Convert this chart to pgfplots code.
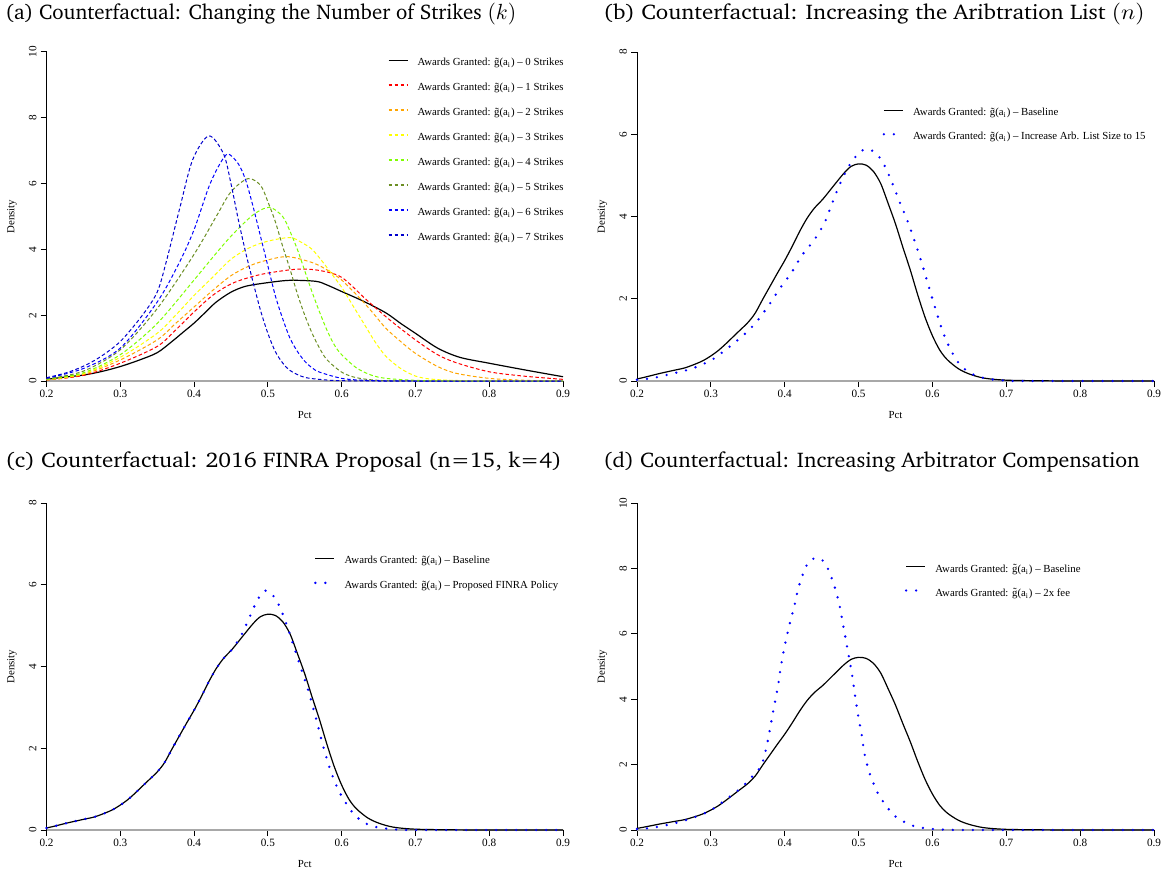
\documentclass[border=0pt]{standalone}
\usepackage[T1]{fontenc}
\usepackage{fontspec}
\setmainfont{Liberation Serif}
\usepackage{pgfplots}
\pgfplotsset{compat=1.18}

\definecolor{rorange}{HTML}{FFA500}
\definecolor{ryellow}{HTML}{FFFF00}
\definecolor{rchart}{HTML}{7FFF00}
\definecolor{rolive}{HTML}{6B8E23}
\definecolor{rblue}{HTML}{0000FF}
\definecolor{rbluethree}{HTML}{0000CD}
\definecolor{rred}{HTML}{FF0000}
\definecolor{rgray}{HTML}{A8A8A8}

\newcommand\titlefont{\fontencoding{T1}\fontfamily{bch}\fontsize{10.6}{12}\selectfont}
\newcommand\aw{Awards Granted: \~{g}(a\textsubscript{i}) --}

\pgfplotsset{
 rpanel/.style={
  scale only axis,
  xmin=0.2,xmax=0.9,ymin=0,
  axis x line*=bottom, axis y line*=left,
  axis line style={line width=0.5pt, -},
  tick align=outside,
  major tick length=3pt,
  tick style={line width=0.5pt, black},
  xtick={0.2,0.3,0.4,0.5,0.6,0.7,0.8,0.9},
  xticklabels={0.2,0.3,0.4,0.5,0.6,0.7,0.8,0.9},
  ticklabel style={font=\fontsize{5.6}{6}\selectfont},
  xticklabel style={yshift=2pt},
  yticklabel style={rotate=90, anchor=south, yshift=-1.5pt},
  xlabel={Pct}, ylabel={Density},
  label style={font=\fontsize{5.4}{6}\selectfont},
  xlabel style={at={(axis description cs:0.5,0)}, anchor=center, yshift=-17pt},
  ylabel style={at={([xshift=-17.25pt]axis description cs:0,0.5)}, anchor=center},
  clip=false,
  legend cell align=left,
  legend image code/.code={\draw[##1] (0pt,1.6pt) -- (9.5pt,1.6pt);},
  legend style={draw=none, fill=none, inner sep=0pt, outer sep=0pt, anchor=north west,
    font=\fontsize{5.4}{6}\selectfont,
    nodes={inner sep=0pt, text height=4pt, text depth=1.5pt},
    /tikz/every odd column/.append style={column sep=4.5pt}},
 },
 rsolid/.style={black, line width=0.6pt, smooth, tension=0.5, legend image post style={line width=0.7pt}},
 rdash/.style={line width=0.5pt, dash pattern=on 1.8pt off 1.2pt, smooth, tension=0.5, legend image post style={line width=0.8pt}},
 rdot/.style={rblue, line width=1.3pt, line cap=round, dash pattern=on 0pt off 5pt, smooth, tension=0.5},
 zeroline/.style={rgray, line width=0.75pt, forget plot},
}

\pgfplotstableread{
x y
0.2 0.05
0.21 0.09
0.23 0.18
0.25 0.26
0.265 0.32
0.28 0.42
0.29 0.5
0.3 0.61
0.31 0.74
0.32 0.9
0.335 1.16
0.35 1.42
0.36 1.65
0.37 1.98
0.38 2.3
0.39 2.62
0.4 2.93
0.41 3.27
0.42 3.63
0.43 3.95
0.44 4.2
0.452 4.43
0.465 4.72
0.48 5.05
0.49 5.22
0.5 5.28
0.51 5.25
0.52 5.1
0.53 4.8
0.54 4.32
0.55 3.82
0.56 3.25
0.57 2.7
0.58 2.1
0.59 1.55
0.6 1.1
0.61 0.75
0.62 0.52
0.635 0.3
0.65 0.17
0.67 0.07
0.7 0.02
0.75 0.005
0.8 0
0.9 0
}\baseline

\begin{document}
\begin{tikzpicture}
\useasboundingbox (0,0) rectangle (583pt,437pt);

\node[anchor=base west, inner sep=0pt, font=\titlefont] at (2.5pt,427.1pt) {\scalebox{0.986}[1]{(a) Counterfactual: Changing the Number of Strikes $(k)$}};
\node[anchor=base west, inner sep=0pt, font=\titlefont] at (301.5pt,427.1pt) {\scalebox{1.085}[1]{(b) Counterfactual: Increasing the Aribtration List $(n)$}};
\node[anchor=base west, inner sep=0pt, font=\titlefont] at (2.5pt,203.1pt) {\scalebox{1.085}[1]{(c) Counterfactual: 2016 FINRA Proposal (n=15, k=4)}};
\node[anchor=base west, inner sep=0pt, font=\titlefont] at (301.5pt,203.1pt) {\scalebox{1.035}[1]{(d) Counterfactual: Increasing Arbitrator Compensation}};

% ---------------- (a)
\begin{axis}[rpanel, at={(23.25pt,246.5pt)}, anchor=south west, width=258.25pt, height=164.5pt,
  ymax=10, ytick={0,2,4,6,8,10}, yticklabels={0,2,4,6,8,10},
  legend style={at={(0.661,0.982)}, row sep=7pt}]
\addplot[zeroline] coordinates {(0.2,0)(0.9,0)};
\addplot[rsolid] coordinates {(0.2,0.05)(0.225,0.12)(0.25,0.18)(0.275,0.29)(0.3,0.44)(0.325,0.63)(0.35,0.86)(0.37,1.2)(0.385,1.48)(0.4,1.76)(0.415,2.08)(0.43,2.4)(0.45,2.7)(0.47,2.88)(0.5,2.99)(0.53,3.06)(0.565,3.03)(0.58,2.92)(0.6,2.72)(0.63,2.42)(0.66,2.07)(0.68,1.75)(0.7,1.45)(0.73,1.0)(0.76,0.72)(0.8,0.54)(0.85,0.33)(0.9,0.13)};
\addlegendentry{\aw{} 0 Strikes}
\addplot[rdash, color=rred] coordinates {(0.2,0.03)(0.25,0.17)(0.3,0.54)(0.35,1.05)(0.375,1.55)(0.4,2.1)(0.425,2.6)(0.45,2.95)(0.475,3.15)(0.5,3.28)(0.54,3.4)(0.57,3.36)(0.6,3.15)(0.634,2.46)(0.665,1.86)(0.7,1.25)(0.73,0.8)(0.756,0.55)(0.8,0.28)(0.846,0.15)(0.9,0.05)};
\addlegendentry{\aw{} 1 Strikes}
\addplot[rdash, color=rorange] coordinates {(0.2,0.03)(0.25,0.2)(0.3,0.64)(0.35,1.25)(0.375,1.75)(0.4,2.25)(0.425,2.75)(0.45,3.2)(0.475,3.5)(0.5,3.68)(0.527,3.78)(0.56,3.6)(0.58,3.38)(0.6,3.07)(0.627,2.46)(0.645,2.0)(0.66,1.6)(0.68,1.2)(0.7,0.84)(0.73,0.44)(0.756,0.23)(0.8,0.08)(0.85,0.02)(0.9,0.0)};
\addlegendentry{\aw{} 2 Strikes}
\addplot[rdash, color=ryellow] coordinates {(0.2,0.04)(0.25,0.22)(0.3,0.72)(0.35,1.45)(0.375,2.0)(0.4,2.6)(0.425,3.15)(0.45,3.7)(0.475,4.05)(0.5,4.25)(0.53,4.36)(0.545,4.22)(0.56,4.0)(0.575,3.6)(0.59,3.15)(0.6,2.85)(0.615,2.3)(0.63,1.75)(0.645,1.2)(0.66,0.75)(0.68,0.38)(0.7,0.15)(0.72,0.06)(0.75,0.02)(0.8,0)(0.9,0)};
\addlegendentry{\aw{} 3 Strikes}
\addplot[rdash, color=rchart] coordinates {(0.2,0.05)(0.25,0.25)(0.3,0.8)(0.35,1.75)(0.4,3.07)(0.425,3.75)(0.45,4.4)(0.48,5.05)(0.502,5.28)(0.52,5.0)(0.53,4.55)(0.54,4.0)(0.55,3.35)(0.56,2.7)(0.57,2.1)(0.58,1.55)(0.59,1.1)(0.6,0.8)(0.62,0.4)(0.64,0.18)(0.66,0.08)(0.7,0.02)(0.75,0)(0.9,0)};
\addlegendentry{\aw{} 4 Strikes}
\addplot[rdash, color=rolive] coordinates {(0.2,0.06)(0.25,0.3)(0.3,0.95)(0.35,2.2)(0.4,3.85)(0.43,5.0)(0.45,5.75)(0.473,6.15)(0.49,5.95)(0.5,5.45)(0.51,4.85)(0.52,4.1)(0.53,3.4)(0.54,2.65)(0.55,2.0)(0.56,1.45)(0.57,1.0)(0.58,0.65)(0.6,0.27)(0.62,0.1)(0.65,0.02)(0.7,0)(0.9,0)};
\addlegendentry{\aw{} 5 Strikes}
\addplot[rdash, color=rblue] coordinates {(0.2,0.08)(0.25,0.38)(0.3,1.0)(0.35,2.4)(0.38,3.6)(0.4,4.6)(0.42,5.9)(0.435,6.6)(0.446,6.9)(0.46,6.6)(0.47,6.1)(0.48,5.3)(0.49,4.4)(0.5,3.5)(0.51,2.6)(0.52,1.9)(0.53,1.3)(0.54,0.9)(0.55,0.6)(0.56,0.4)(0.57,0.27)(0.6,0.08)(0.63,0.02)(0.66,0.005)(0.7,0)(0.9,0)};
\addlegendentry{\aw{} 6 Strikes}
\addplot[rdash, color=rbluethree] coordinates {(0.2,0.1)(0.227,0.25)(0.25,0.45)(0.272,0.72)(0.3,1.2)(0.33,2.0)(0.35,2.7)(0.362,3.6)(0.38,5.2)(0.398,6.72)(0.42,7.45)(0.44,6.9)(0.45,6.0)(0.46,4.9)(0.47,3.9)(0.48,3.0)(0.49,2.15)(0.5,1.45)(0.51,0.9)(0.52,0.55)(0.53,0.32)(0.55,0.11)(0.58,0.03)(0.6,0.01)(0.65,0)(0.9,0)};
\addlegendentry{\aw{} 7 Strikes}
\end{axis}

% ---------------- (b)
\begin{axis}[rpanel, at={(318.5pt,246.5pt)}, anchor=south west, width=258.5pt, height=164.5pt,
  ymax=8, ytick={0,2,4,6,8}, yticklabels={0,2,4,6,8},
  legend style={at={(0.475,0.830)}, row sep=6.5pt}]
\addplot[zeroline] coordinates {(0.2,0)(0.9,0)};
\addplot[rsolid] table[x=x,y=y] {\baseline};
\addlegendentry{\aw{} Baseline}
\addplot[rdot] coordinates {(0.2,0.03)(0.221,0.07)(0.248,0.18)(0.274,0.3)(0.3,0.5)(0.32,0.76)(0.342,1.08)(0.36,1.4)(0.378,1.83)(0.393,2.24)(0.409,2.63)(0.423,3.05)(0.44,3.43)(0.454,3.85)(0.464,4.31)(0.474,4.76)(0.486,5.2)(0.494,5.41)(0.503,5.59)(0.515,5.63)(0.526,5.49)(0.534,5.28)(0.545,4.84)(0.555,4.38)(0.565,3.95)(0.575,3.45)(0.585,2.9)(0.595,2.3)(0.605,1.7)(0.615,1.15)(0.625,0.75)(0.635,0.45)(0.645,0.27)(0.66,0.12)(0.68,0.04)(0.7,0.01)(0.72,0)(0.9,0)};
\addlegendentry{\aw{} Increase Arb. List Size to 15}
\end{axis}

% ---------------- (c)
\begin{axis}[rpanel, at={(23.25pt,22pt)}, anchor=south west, width=258.25pt, height=163.5pt,
  ymax=8, ytick={0,2,4,6,8}, yticklabels={0,2,4,6,8},
  legend style={at={(0.518,0.838)}, row sep=6.8pt}]
\addplot[zeroline] coordinates {(0.2,0)(0.9,0)};
\addplot[rsolid] table[x=x,y=y] {\baseline};
\addlegendentry{\aw{} Baseline}
\addplot[rdot] coordinates {(0.2,0.05)(0.21,0.09)(0.23,0.18)(0.25,0.26)(0.265,0.32)(0.28,0.42)(0.29,0.5)(0.3,0.61)(0.31,0.74)(0.32,0.9)(0.335,1.16)(0.35,1.42)(0.36,1.65)(0.37,1.98)(0.38,2.3)(0.39,2.62)(0.4,2.93)(0.41,3.27)(0.42,3.63)(0.43,3.95)(0.44,4.2)(0.452,4.43)(0.465,4.8)(0.475,5.2)(0.485,5.6)(0.495,5.85)(0.505,5.78)(0.515,5.5)(0.525,5.05)(0.535,4.5)(0.545,3.95)(0.555,3.4)(0.565,2.75)(0.575,2.05)(0.585,1.45)(0.595,1.0)(0.605,0.68)(0.615,0.42)(0.625,0.25)(0.635,0.14)(0.65,0.06)(0.67,0.02)(0.7,0)(0.9,0)};
\addlegendentry{\aw{} Proposed FINRA Policy}
\end{axis}

% ---------------- (d)
\begin{axis}[rpanel, at={(318.5pt,22pt)}, anchor=south west, width=258.5pt, height=163.5pt,
  ymax=10, ytick={0,2,4,6,8,10}, yticklabels={0,2,4,6,8,10},
  legend style={at={(0.518,0.813)}, row sep=6.5pt}]
\addplot[zeroline] coordinates {(0.2,0)(0.9,0)};
\addplot[rsolid] table[x=x,y=y] {\baseline};
\addlegendentry{\aw{} Baseline}
\addplot[rdot] coordinates {(0.2,0.03)(0.221,0.07)(0.248,0.19)(0.274,0.36)(0.299,0.59)(0.321,0.94)(0.342,1.31)(0.361,1.76)(0.369,2.0)(0.376,2.61)(0.381,3.21)(0.386,3.82)(0.391,4.42)(0.395,5.03)(0.4,5.63)(0.406,6.24)(0.413,6.85)(0.419,7.44)(0.428,8.02)(0.436,8.27)(0.448,8.3)(0.457,8.06)(0.467,7.48)(0.474,6.89)(0.479,6.28)(0.484,5.66)(0.491,4.77)(0.495,4.15)(0.499,3.55)(0.504,2.94)(0.508,2.33)(0.515,1.73)(0.525,1.17)(0.532,0.91)(0.54,0.66)(0.549,0.43)(0.56,0.27)(0.57,0.16)(0.58,0.09)(0.6,0.03)(0.62,0.01)(0.65,0)(0.9,0)};
\addlegendentry{\aw{} 2x fee}
\end{axis}
\end{tikzpicture}
\end{document}
